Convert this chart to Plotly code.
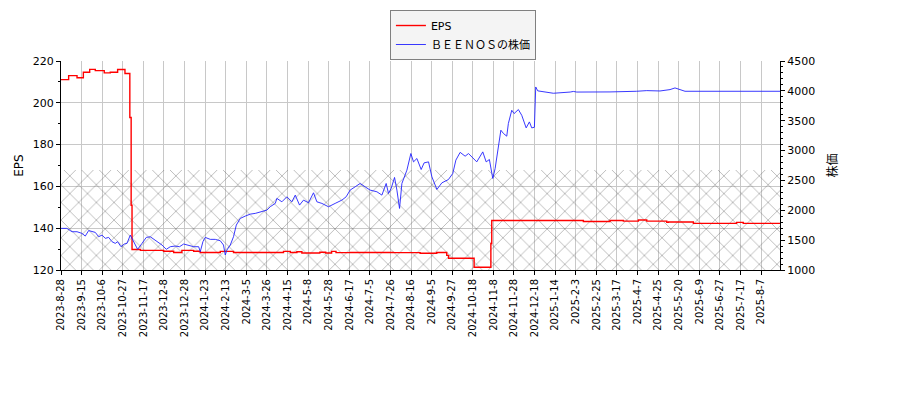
import plotly.graph_objects as go

# x axis: trading-day number counted from 2023-8-28, labels every 14 trading days
tick_labels = [
    "2023-8-28", "2023-9-15", "2023-10-6", "2023-10-27", "2023-11-17", "2023-12-8",
    "2023-12-28", "2024-1-23", "2024-2-13", "2024-3-5", "2024-3-26", "2024-4-15",
    "2024-5-8", "2024-5-28", "2024-6-17", "2024-7-5", "2024-7-26", "2024-8-16",
    "2024-9-5", "2024-9-27", "2024-10-18", "2024-11-8", "2024-11-28", "2024-12-18",
    "2025-1-14", "2025-2-3", "2025-2-25", "2025-3-17", "2025-4-7", "2025-4-25",
    "2025-5-20", "2025-6-9", "2025-6-27", "2025-7-17", "2025-8-7",
]
tick_step = 14
last_day = 488.9

# EPS (left axis), step series
eps_day = [0, 5.2, 10.9, 15.2, 19.5, 23.3, 29.4, 33.5, 38.5, 43.5, 46.8, 47.7, 48.3,
           54.0, 69.8, 76.6, 82.2, 90.2, 94.7, 108.3, 117.3, 151.3, 155.9, 160.4,
           163.8, 176.0, 180.0, 184.0, 187.0, 196.6, 226.1, 244.2, 255.5, 262.3,
           263.5, 280.9, 292.3, 292.9, 355.2, 373.3, 382.4, 392.6, 398.3, 411.9,
           413.0, 430.0, 459.4, 463.9, 488.9]
eps_val = [211.1, 213.0, 212.0, 214.6, 216.0, 215.4, 214.3, 214.6, 215.9, 214.0, 193.0,
           151.0, 129.8, 129.4, 129.0, 128.4, 129.4, 129.0, 128.4, 128.9, 128.4, 128.9,
           128.4, 128.7, 128.1, 128.5, 128.1, 128.9, 128.3, 128.4, 128.3, 128.0, 128.4,
           127.0, 125.6, 121.3, 132.7, 143.7, 143.2, 143.7, 143.4, 143.9, 143.4, 142.8,
           143.0, 142.3, 142.8, 142.3, 142.3]

# share price (right axis)
price_day = [0, 4, 7.5, 10.9, 14.3, 16.5, 18.8, 21.1, 23.3, 25.6, 27.9, 30.1, 32.4,
             34.7, 36.9, 38.5, 40.8, 43, 44.9, 47.1, 49.4, 52.1, 55.1, 58, 60.7, 63,
             65.7, 68.7, 71.6, 74.3, 77.7, 80.6, 83.4, 86.8, 90.2, 93.6, 94.7, 96.5,
             98.1, 101.5, 104.9, 108.3, 110.5, 111.7, 112.8, 115.1, 117.3, 119.2,
             121.9, 125.3, 128.7, 132.1, 135.5, 140.0, 142.3, 145.7, 146.8, 150.2,
             153.6, 157, 159.3, 162.2, 164.9, 168.3, 171.7, 174, 177.4, 181.9, 186.4,
             191, 193.9, 196.6, 200, 203.4, 206.8, 210.2, 214.8, 218.2, 221.1, 222.7,
             224.5, 226.8, 228.4, 230.2, 231.8, 235.2, 237.9, 239.7, 242, 244.9,
             246.9, 249.9, 252.2, 255.6, 259, 263.4, 266.4, 268.5, 271.4, 274.8,
             277.1, 279.4, 282.7, 286.8, 289.1, 291.3, 293.6, 295.2, 297.4, 299.1,
             300.9, 303.1, 304.2, 306.5, 308.1, 311, 313.3, 316.3, 318.5, 320.1,
             321.9, 322.8, 324.2, 330.3, 334.8, 346.2, 348.4, 350.7, 366.5, 373.3,
             391.4, 398.3, 407.3, 414.1, 417.5, 420.9, 424.3, 488.9]
price_val = [1697, 1697, 1641, 1641, 1613, 1568, 1660, 1641, 1630, 1557, 1585, 1530,
             1546, 1474, 1446, 1474, 1390, 1435, 1446, 1585, 1474, 1346, 1446, 1546,
             1557, 1513, 1474, 1418, 1346, 1390, 1401, 1390, 1435, 1418, 1390, 1390,
             1306, 1474, 1546, 1513, 1513, 1490, 1418, 1251, 1334, 1418, 1557, 1752,
             1864, 1903, 1936, 1948, 1975, 2003, 2060, 2115, 2199, 2142, 2226, 2142,
             2254, 2087, 2170, 2126, 2293, 2142, 2115, 2059, 2115, 2170, 2226, 2338,
             2393, 2449, 2393, 2338, 2310, 2254, 2449, 2282, 2366, 2550, 2338, 2031,
             2449, 2672, 2951, 2811, 2867, 2683, 2794, 2811, 2560, 2349, 2460, 2514,
             2616, 2840, 2970, 2906, 2950, 2895, 2811, 2978, 2811, 2850, 2533, 2700,
             3062, 3341, 3285, 3241, 3453, 3675, 3620, 3687, 3590, 3380, 3480, 3380,
             3390, 4065, 4000, 3971, 3960, 3980, 3990, 3980, 3990, 3982, 3993, 4004,
             3998, 4021, 4049, 4021, 3993, 3993]

# hatched band (left-axis units)
band_low = 120
band_high = 167.8

font_family = "DejaVu Sans"

fig = go.Figure()

# hatched band
fig.add_trace(go.Scatter(
    x=[0, last_day, last_day, 0, 0],
    y=[band_low, band_low, band_high, band_high, band_low],
    mode="none", fill="toself",
    fillcolor="rgba(0,0,0,0)",
    fillpattern=dict(shape="x", fgcolor="#555555", bgcolor="rgba(0,0,0,0)",
                     size=12.5, solidity=0.12),
    showlegend=False, hoverinfo="skip",
))

fig.add_trace(go.Scatter(
    x=eps_day, y=eps_val, name="EPS", mode="lines",
    line=dict(color="#ff0000", width=1.4, shape="hv"),
))

fig.add_trace(go.Scatter(
    x=price_day, y=price_val, name="ＢＥＥＮＯＳの株価", mode="lines",
    line=dict(color="#2222ff", width=0.9), yaxis="y2",
))

# the page adds an 8px body margin, so margins are reduced by that much
fig.update_layout(
    width=900, height=400,
    margin=dict(l=53, r=128, t=53, b=138, autoexpand=False),
    paper_bgcolor="white", plot_bgcolor="white",
    font=dict(family=font_family, size=11, color="black"),
    legend=dict(
        x=0.559, y=1.244, xanchor="center", yanchor="top",
        bgcolor="#f4f4f4", bordercolor="#808080", borderwidth=1,
        font=dict(size=11, family=font_family + ", Noto Sans CJK JP"),
        itemwidth=30, tracegroupgap=0,
    ),
    xaxis=dict(
        range=[0, last_day], automargin=False,
        tickvals=[i * tick_step for i in range(len(tick_labels))],
        ticktext=tick_labels,
        tickangle=-90,
        tickfont=dict(size=10),
        ticks="outside", ticklen=4, tickcolor="black",
        showline=True, linecolor="black", linewidth=1,
        showgrid=True, gridcolor="#c8c8c8", gridwidth=1,
        zeroline=False,
    ),
    yaxis=dict(
        range=[120, 220], dtick=20, automargin=False,
        ticks="outside", ticklen=4, tickcolor="black",
        minor=dict(dtick=10, ticks="outside", ticklen=2, tickcolor="black", showgrid=False),
        showline=True, linecolor="black", linewidth=1,
        showgrid=True, gridcolor="#c8c8c8", gridwidth=1,
        zeroline=False,
        title=dict(text="EPS", standoff=6, font=dict(size=12)),
    ),
    yaxis2=dict(
        overlaying="y", side="right", automargin=False,
        range=[1000, 4500], dtick=500,
        ticks="outside", ticklen=4, tickcolor="black",
        minor=dict(dtick=100, ticks="outside", ticklen=2, tickcolor="black", showgrid=False),
        showline=True, linecolor="black", linewidth=1,
        showgrid=False, zeroline=False,
        title=dict(text="株価", standoff=14,
                   font=dict(size=12, family="Noto Sans CJK JP")),
    ),
)

fig.write_html("out.html")
